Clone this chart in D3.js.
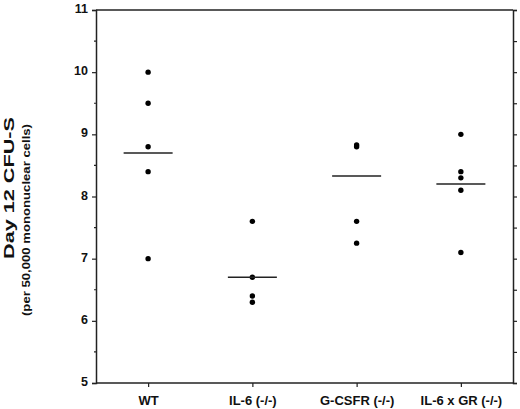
<!DOCTYPE html>
<html>
<head>
<meta charset="utf-8">
<script src="https://cdn.jsdelivr.net/npm/d3@7"></script>
<style>
  body { margin: 0; background: #fff; }
  text { font-family: "Liberation Sans", Arial, Helvetica, sans-serif; font-weight: bold; fill: #111; }
</style>
</head>
<body>
<div id="chart"></div>
<script>
// groups along the x axis
const categories = ['WT', 'IL-6 (-/-)', 'G-CSFR (-/-)', 'IL-6 x GR (-/-)'];

// individual animals
const wtValues = [10.0, 9.5, 8.8, 8.4, 7.0];
const il6Values = [7.6, 6.7, 6.4, 6.3];
const gcsfrValues = [8.83, 8.8, 7.6, 7.25];
const il6grValues = [9.0, 8.4, 8.3, 8.1, 7.1];

// group means (horizontal bars)
const means = [8.7, 6.7, 8.33, 8.2];

const yTicks = [5, 6, 7, 8, 9, 10, 11];

const groups = [wtValues, il6Values, gcsfrValues, il6grValues];

const width = 520;
const height = 409;
const margin = { top: 10, right: 7, bottom: 26, left: 96 };

const svg = d3.select('#chart')
   .append('svg')
   .attr('width', width)
   .attr('height', height);

const x = d3.scalePoint()
   .domain(categories)
   .range([margin.left, width - margin.right])
   .padding(0.5);

const y = d3.scaleLinear()
   .domain([5, 11])
   .range([height - margin.bottom, margin.top]);

const halfTicks = d3.range(5, 11.01, 0.5);

// frame: top line
svg.append('line')
   .attr('x1', margin.left).attr('x2', width - margin.right)
   .attr('y1', y(11)).attr('y2', y(11))
   .attr('stroke', '#222').attr('stroke-width', 1.5);

// left axis
const left = svg.append('g')
   .attr('transform', `translate(${margin.left},0)`)
   .call(d3.axisLeft(y).tickValues(yTicks).tickSize(4).tickPadding(4).tickFormat(d3.format('d')));
left.select('.domain').attr('stroke', '#222').attr('stroke-width', 1.5);
left.selectAll('.tick line').attr('stroke', '#222').attr('stroke-width', 1.2);
left.selectAll('.tick text')
   .attr('dy', '0.2em')
   .style('font-size', '12.5px');

// left minor ticks at the half units
svg.append('g')
   .selectAll('line')
   .data(halfTicks.filter(d => d % 1 !== 0))
   .enter()
   .append('line')
   .attr('x1', margin.left - 2).attr('x2', margin.left)
   .attr('y1', d => y(d)).attr('y2', d => y(d))
   .attr('stroke', '#222').attr('stroke-width', 1.2);

// right axis, ticks every half unit, no labels
const right = svg.append('g')
   .attr('transform', `translate(${width - margin.right},0)`)
   .call(d3.axisRight(y).tickValues(halfTicks).tickSize(4).tickFormat(''));
right.select('.domain').attr('stroke', '#222').attr('stroke-width', 1.5);
right.selectAll('.tick line').attr('stroke', '#222').attr('stroke-width', 1.2);

// bottom axis
const bottom = svg.append('g')
   .attr('transform', `translate(0,${height - margin.bottom})`)
   .call(d3.axisBottom(x).tickSize(4).tickPadding(9).tickSizeOuter(0));
bottom.select('.domain')
   .attr('d', `M${margin.left},0H${width - margin.right}`)
   .attr('stroke', '#222').attr('stroke-width', 1.5);
bottom.selectAll('.tick line').attr('stroke', '#222').attr('stroke-width', 1.2);
bottom.selectAll('.tick text').style('font-size', '13px');

// individual points
groups.forEach(function(vals, i) {
   svg.append('g')
      .selectAll('circle')
      .data(vals)
      .enter()
      .append('circle')
      .attr('cx', x(categories[i]))
      .attr('cy', d => y(d))
      .attr('r', 2.7)
      .attr('fill', '#000');
});

// mean bars
svg.append('g')
   .selectAll('line')
   .data(means)
   .enter()
   .append('line')
   .attr('x1', (d, i) => x(categories[i]) - 24.5)
   .attr('x2', (d, i) => x(categories[i]) + 24.5)
   .attr('y1', d => y(d))
   .attr('y2', d => y(d))
   .attr('stroke', '#222')
   .attr('stroke-width', 1.5);

// y axis titles
svg.append('text')
   .attr('transform', 'translate(14,188) rotate(-90)')
   .attr('text-anchor', 'middle')
   .attr('textLength', 142)
   .attr('lengthAdjust', 'spacingAndGlyphs')
   .style('font-size', '15.5px')
   .text('Day 12 CFU-S');

svg.append('text')
   .attr('transform', 'translate(30,220) rotate(-90)')
   .attr('text-anchor', 'middle')
   .attr('textLength', 192)
   .attr('lengthAdjust', 'spacingAndGlyphs')
   .style('font-size', '11.5px')
   .text('(per 50,000 mononuclear cells)');
</script>
</body>
</html>
